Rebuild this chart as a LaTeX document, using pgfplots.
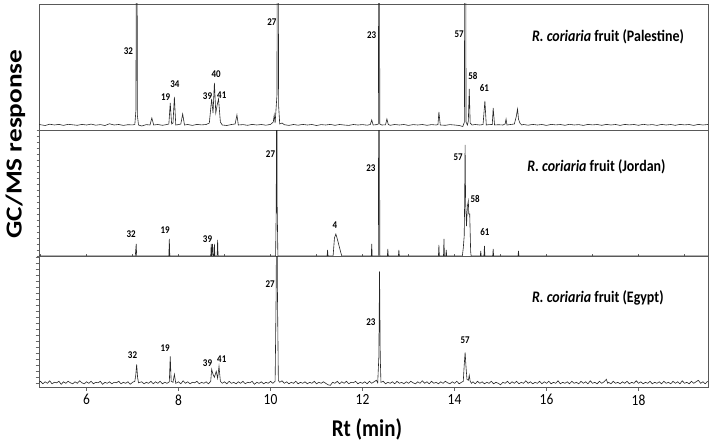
\documentclass[border=0pt]{standalone}
\usepackage{fontspec}
\setmainfont{Carlito}
\usepackage{graphicx}
\usepackage{pgfplots}
\pgfplotsset{compat=1.18}
\usepackage{pgfplotstable}

\pgfplotstableread{
x y
4.97 0.5
5.1 -0.5
5.2 0.8
5.3 0
5.4 0.6
5.5 -0.4
5.6 0.7
5.7 0.2
5.8 -0.3
5.9 0.6
6.0 0
6.1 0.9
6.2 -0.2
6.3 0.4
6.4 -0.5
6.5 1.2
6.6 0
6.7 0.5
6.8 -0.4
6.9 0.3
7.0 0.1
7.05 0.5
7.075 15
7.088 400
7.092 400
7.105 10
7.13 0
7.2 -1
7.3 0.4
7.38 0
7.42 7
7.46 0
7.55 0.5
7.65 -0.3
7.75 0.5
7.79 1
7.82 22
7.85 1
7.88 2
7.91 28
7.94 0
8.0 0.4
8.05 1
8.09 11
8.13 0
8.2 0.5
8.3 -0.4
8.4 0.6
8.5 0.1
8.6 0.5
8.67 2
8.72 26
8.75 12
8.78 42
8.81 12
8.84 20
8.87 26
8.91 3
8.95 0
9.05 -0.5
9.15 0.5
9.23 1
9.27 10
9.3 0
9.4 0.4
9.5 -0.3
9.6 0.6
9.7 0
9.8 0.5
9.9 -0.2
10.0 0.6
10.06 3
10.08 10
10.1 2
10.14 30
10.155 400
10.16 400
10.175 20
10.2 1
10.25 2
10.3 0.3
10.4 -0.4
10.5 0.5
10.6 -0.2
10.7 0.6
10.8 0
10.9 0.5
11.0 -0.5
11.1 0.4
11.2 0
11.3 0.6
11.4 -0.3
11.5 0.5
11.6 0
11.7 -0.4
11.8 0.5
11.9 0
12.0 0.4
12.1 -0.2
12.17 0.5
12.2 5
12.23 0
12.3 0.3
12.345 1
12.358 400
12.362 400
12.375 1
12.42 0
12.5 0.2
12.53 6
12.56 0.5
12.6 -0.3
12.7 0.5
12.8 0
12.9 0.5
13.0 -0.4
13.1 0.4
13.2 0
13.3 0.5
13.4 -0.3
13.5 0.4
13.6 0
13.64 0.5
13.66 13
13.69 0
13.8 -0.3
13.9 0.4
14.0 0
14.1 -0.5
14.18 -1.5
14.215 3
14.228 400
14.236 400
14.25 3
14.28 0
14.3 4
14.32 36
14.34 2
14.38 0
14.45 0.5
14.55 0
14.62 0.5
14.66 24
14.69 0
14.75 0.4
14.82 0.5
14.84 17
14.87 0
14.95 0.3
15.05 0
15.1 1
15.12 6
15.14 0
15.2 0.4
15.3 1
15.34 8
15.37 16
15.39 6
15.42 2
15.46 0
15.5 0.5
15.6 -0.2
15.7 0.6
15.8 0
15.9 0.5
16.0 -0.4
16.1 0.6
16.2 0.1
16.3 0.5
16.4 -0.3
16.5 0.7
16.6 0
16.7 0.4
16.8 -0.4
16.9 0.6
17.0 0.1
17.1 0.5
17.2 -0.3
17.3 0.6
17.4 0
17.5 0.5
17.6 -0.4
17.7 0.6
17.8 0.1
17.9 0.5
18.0 -0.3
18.1 0.7
18.2 0
18.3 0.4
18.4 -0.4
18.5 0.6
18.6 0
18.7 0.5
18.8 -0.3
18.9 0.6
19.0 0.1
19.1 0.5
19.2 -0.4
19.3 0.6
19.4 0
19.51 0.5
}\palestine

\pgfplotstableread{
x y
4.97 0
7.06 0
7.08 12
7.09 0
7.79 0
7.80 17
7.81 0
8.70 0
8.71 12
8.72 0
8.74 12
8.75 0
8.77 0
8.78 12
8.79 0
8.84 0
8.85 16
8.86 0
10.11 0
10.125 49
10.132 400
10.138 400
10.145 49
10.16 0
11.23 0
11.24 6
11.25 0
11.36 0
11.39 18
11.42 22
11.44 19
11.48 12
11.53 3
11.55 0
12.19 0
12.20 12
12.21 0
12.345 0
12.358 400
12.362 400
12.375 0
12.54 0
12.55 7
12.56 0
12.78 0
12.79 6
12.80 0
13.65 0
13.66 11
13.67 0
13.76 0
13.77 17
13.78 0
13.81 0
13.82 6
13.83 0
14.17 0
14.19 8
14.21 20
14.22 55
14.23 111
14.24 55
14.26 30
14.28 50
14.30 55
14.31 42
14.33 42
14.35 5
14.36 0
14.56 0
14.57 5
14.58 0
14.64 0
14.65 10
14.66 0
14.83 0
14.84 7
14.85 0
15.38 0
15.39 5
15.40 0
19.51 0
}\jordan

\pgfplotstableread{
x y
4.97 1
5.00 2
5.05 -0.5
5.10 1.5
5.15 0
5.20 2.5
5.25 -0.5
5.30 1
5.35 0.5
5.40 2
5.45 -1
5.50 1.5
5.55 0
5.60 2
5.65 0.5
5.70 -0.5
5.75 1.5
5.80 0
5.85 2.5
5.90 0.5
5.95 -0.5
6.00 1.5
6.05 0
6.10 2
6.15 -0.5
6.20 1
6.25 0.5
6.30 2
6.35 -1
6.40 1
6.45 0
6.50 1.5
6.55 -0.5
6.60 1
6.65 0.5
6.70 2
6.75 -0.5
6.80 1
6.85 0
6.90 1.5
6.95 -1
7.00 1
7.05 2
7.07 8
7.09 19
7.11 6
7.13 0.5
7.20 1.5
7.25 -0.5
7.30 1
7.35 0
7.40 2
7.45 -0.5
7.50 1.5
7.55 0
7.60 2
7.65 -0.5
7.70 1
7.75 0
7.80 1.5
7.82 27
7.84 2
7.88 1
7.91 9
7.94 0
8.00 1.5
8.05 -0.5
8.10 2.5
8.15 0
8.20 1.5
8.25 -0.5
8.30 1
8.35 0.5
8.40 2
8.45 -0.5
8.50 1
8.55 0
8.60 1.5
8.65 -0.5
8.70 2
8.72 14
8.75 9
8.78 6
8.82 12
8.85 5
8.88 17
8.91 2
8.95 0
9.00 1.5
9.05 -0.5
9.10 2
9.15 0
9.20 1
9.25 -0.5
9.30 1.5
9.35 0
9.40 2
9.45 -0.5
9.50 1
9.55 0.5
9.60 2
9.65 -1
9.70 1
9.75 0
9.80 1.5
9.85 -0.5
9.90 1
9.95 0
10.00 2
10.05 0
10.10 2
10.125 102
10.133 400
10.14 400
10.148 102
10.17 3
10.20 1
10.25 2.5
10.30 0
10.35 1.5
10.40 -0.5
10.45 1
10.50 0
10.55 2
10.60 -0.5
10.65 1
10.70 0
10.75 1.5
10.80 -0.5
10.85 1
10.90 0
10.95 2
11.00 -0.5
11.05 1
11.10 0
11.15 1.5
11.20 0
11.25 -1.5
11.30 -2
11.35 1
11.40 0
11.45 2
11.50 -0.5
11.55 1.5
11.60 0
11.65 2
11.70 -0.5
11.75 1
11.80 0.5
11.85 2
11.90 -0.5
11.95 1
12.00 0
12.05 1.5
12.10 -0.5
12.15 2
12.20 0
12.25 1.5
12.30 3
12.33 0.5
12.355 27
12.37 112
12.385 27
12.40 1
12.45 2
12.50 -0.5
12.55 1
12.60 0
12.65 1.5
12.70 -0.5
12.75 2
12.80 0
12.85 1
12.90 -0.5
12.95 1.5
13.00 0
13.05 2
13.10 0.5
13.15 -0.5
13.20 1.5
13.25 0
13.30 2.5
13.35 0
13.40 1.5
13.45 -0.5
13.50 2
13.55 0
13.60 1
13.65 -0.5
13.70 1.5
13.75 0
13.80 2
13.85 0.5
13.90 -0.5
13.95 1.5
14.00 0
14.05 2
14.10 -0.5
14.15 1
14.19 2
14.21 18
14.23 31
14.25 16
14.27 4
14.30 3
14.32 8
14.34 2
14.37 0
14.40 1.5
14.45 -0.5
14.50 2
14.55 0
14.60 1.5
14.65 -0.5
14.70 1
14.75 0
14.80 2
14.85 -0.5
14.90 1
14.95 0
15.00 -1.5
15.05 1
15.10 0
15.15 2
15.20 -0.5
15.25 1.5
15.30 0
15.35 2
15.40 -0.5
15.45 1
15.50 0
15.55 2.5
15.60 0
15.65 1.5
15.70 -0.5
15.75 1
15.80 0
15.85 2
15.90 -0.5
15.95 1.5
16.00 0
16.05 2
16.10 -0.5
16.15 1
16.20 0
16.25 2.5
16.30 -0.5
16.35 1
16.40 0
16.45 1.5
16.50 -0.5
16.55 2
16.60 0
16.65 1
16.70 -0.5
16.75 2
16.80 0
16.85 1.5
16.90 -0.5
16.95 2.5
17.00 0
17.05 1
17.10 -0.5
17.15 2
17.20 0
17.25 1.5
17.30 4
17.33 0
17.35 1
17.40 -0.5
17.45 2
17.50 0
17.55 1
17.60 -0.5
17.65 1.5
17.70 0
17.75 2
17.80 -0.5
17.85 1
17.90 0
17.95 2.5
18.00 0
18.05 1.5
18.10 -0.5
18.15 1
18.20 0
18.25 2
18.30 -0.5
18.35 1
18.40 0
18.45 1.5
18.50 -0.5
18.55 2
18.60 0
18.65 1
18.70 -0.5
18.75 2
18.80 0
18.85 1.5
18.90 -0.5
18.95 2.5
19.00 0
19.05 1
19.10 -0.5
19.15 2
19.20 0
19.25 1.5
19.30 3
19.35 0
19.40 1.5
19.45 -0.5
19.50 2
}\egypt

\newcommand{\vs}[1]{\scalebox{1}[1.15]{#1}}

\tikzset{
  lab/.style={font=\bfseries\fontsize{9}{10}\selectfont, inner sep=0pt},
  ttl/.style={font=\bfseries\fontsize{14}{16}\selectfont, inner sep=0pt, anchor=west},
}
\pgfplotsset{
  panel/.style={
    scale only axis, width=669bp, anchor=north west,
    xmin=4.967, xmax=19.51,
    axis line style={draw=black!65, line width=0.9bp},
    tick style={draw=black!60, line width=0.6bp},
  },
  trace/.style={draw=black!85, line width=0.6bp, no marks, sharp plot},
}

\begin{document}
\begin{tikzpicture}
% Top: Palestine
\begin{axis}[panel, at={(39bp,-4bp)}, height=126bp, ymin=-5, ymax=121,
  xtick=\empty, ytick=\empty]
\addplot[trace] table[x=x,y=y] {\palestine};
\node[lab] at (axis cs:6.91,74.3) {\vs{32}};
\node[lab] at (axis cs:10.03,103.3) {\vs{27}};
\node[lab] at (axis cs:7.72,28.3) {\vs{19}};
\node[lab] at (axis cs:7.92,41) {\vs{34}};
\node[lab] at (axis cs:8.82,51) {\vs{40}};
\node[lab] at (axis cs:8.63,29.3) {\vs{39}};
\node[lab] at (axis cs:8.94,30) {\vs{41}};
\node[lab] at (axis cs:12.20,90) {\vs{23}};
\node[lab] at (axis cs:14.10,90.7) {\vs{57}};
\node[lab] at (axis cs:14.40,49) {\vs{58}};
\node[lab] at (axis cs:14.65,36.7) {\vs{61}};
\node[ttl] at (axis cs:15.68,88) {\vs{\textit{R. coriaria} fruit (Palestine)}};
\end{axis}
% Middle: Jordan
\begin{axis}[panel, at={(39bp,-130bp)}, height=126bp, ymin=0, ymax=126,
  xtick={5,6,...,19}, xticklabels={},
  ytick={0,6,...,126}, yticklabels={},
  tick align=outside, major tick length=2.5bp,
  x tick style={yshift=2.5bp},
  xtick pos=bottom, ytick pos=left]
\addplot[trace] table[x=x,y=y] {\jordan};
\node[lab] at (axis cs:6.97,21.5) {\vs{32}};
\node[lab] at (axis cs:7.71,25.5) {\vs{19}};
\node[lab] at (axis cs:8.63,17) {\vs{39}};
\node[lab] at (axis cs:10.00,101.5) {\vs{27}};
\node[lab] at (axis cs:11.40,30.5) {\vs{4}};
\node[lab] at (axis cs:12.18,88) {\vs{23}};
\node[lab] at (axis cs:14.08,99) {\vs{57}};
\node[lab] at (axis cs:14.45,57) {\vs{58}};
\node[lab] at (axis cs:14.66,24) {\vs{61}};
\node[ttl] at (axis cs:15.58,89.5) {\vs{\textit{R. coriaria} fruit (Jordan)}};
\end{axis}
% Bottom: Egypt
\begin{axis}[panel, at={(39bp,-256bp)}, height=131bp, ymin=-3.7, ymax=127.3,
  xtick={6,8,...,18},
  xticklabels={\vs{6},\vs{8},\vs{10},\vs{12},\vs{14},\vs{16},\vs{18}},
  ytick={0,6,...,126}, yticklabels={},
  tick align=outside, major tick length=3.5bp,
  xtick pos=bottom, ytick pos=left,
  xticklabel style={font=\fontsize{13.5}{14}\selectfont, yshift=-0.5bp}]
\addplot[trace] table[x=x,y=y] {\egypt};
\node[lab] at (axis cs:7.00,28) {\vs{32}};
\node[lab] at (axis cs:7.71,35) {\vs{19}};
\node[lab] at (axis cs:8.63,20) {\vs{39}};
\node[lab] at (axis cs:8.94,24) {\vs{41}};
\node[lab] at (axis cs:9.99,99) {\vs{27}};
\node[lab] at (axis cs:12.18,61) {\vs{23}};
\node[lab] at (axis cs:14.23,43) {\vs{57}};
\node[ttl] at (axis cs:15.68,85) {\vs{\textit{R. coriaria} fruit (Egypt)}};
\end{axis}
\node[rotate=90, font=\bfseries\fontsize{23}{24}\selectfont, inner sep=0pt] at (15.5bp,-144bp) {\scalebox{1.19}[1]{GC/MS response}};
\node[font=\bfseries\fontsize{21}{24}\selectfont, inner sep=0pt] at (367bp,-429bp) {\vs{Rt (min)}};
\pgfresetboundingbox
\path (0bp,0bp) rectangle (713bp,-445bp);
\end{tikzpicture}
\end{document}
